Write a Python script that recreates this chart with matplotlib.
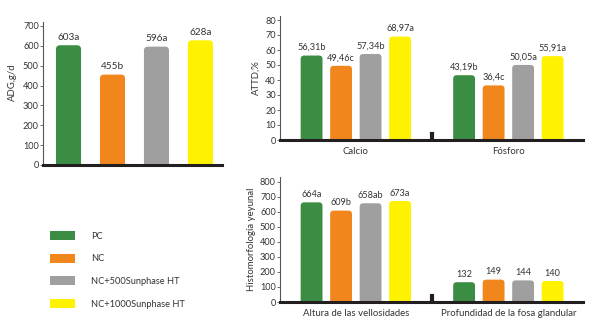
import matplotlib.pyplot as plt
import numpy as np
from matplotlib.patches import FancyBboxPatch, Patch

plt.rcParams['font.family'] = ['Lato', 'DejaVu Sans']

treatments = ['PC', 'NC', 'NC+500Sunphase HT', 'NC+1000Sunphase HT']
colors = ['#3a8d43', '#f0861c', '#9f9f9f', '#fff200']

adg = [603, 455, 596, 628]
adg_letters = ['a', 'b', 'a', 'a']

attd_groups = ['Calcio', 'Fósforo']
attd_ca = [56.31, 49.46, 57.34, 68.97]
attd_ca_letters = ['b', 'c', 'b', 'a']
attd_p = [43.19, 36.4, 50.05, 55.91]
attd_p_letters = ['b', 'c', 'a', 'a']

histo_groups = ['Altura de las vellosidades', 'Profundidad de la fosa glandular']
villi = [664, 609, 658, 673]
villi_letters = ['a', 'b', 'ab', 'a']
crypt = [132, 149, 144, 140]
crypt_letters = ['', '', '', '']

W, H = 600, 335
TXT = '#333333'
fig = plt.figure(figsize=(6, 3.35), dpi=100)


def px_axes(x0, y_top, x1, y_bot):
    return fig.add_axes([x0 / W, 1 - y_bot / H, (x1 - x0) / W, (y_bot - y_top) / H])


def fmt(v):
    return ('%g' % v).replace('.', ',')


def style(ax, ymax, step, ylabel):
    ax.set_ylim(0, ymax)
    ax.set_yticks(np.arange(0, ymax, step))
    for s in ['top', 'right']:
        ax.spines[s].set_visible(False)
    ax.spines['left'].set_color('#555555')
    ax.spines['left'].set_linewidth(0.8)
    ax.spines['bottom'].set_color('#231f20')
    ax.spines['bottom'].set_linewidth(2.2)
    ax.tick_params(axis='y', length=2, width=0.6, color='#555555',
                   labelsize=6.6, labelcolor=TXT, pad=1)
    ax.tick_params(axis='x', length=0, labelsize=6.9, labelcolor=TXT, pad=5)
    ax.set_ylabel(ylabel, fontsize=6.9, color=TXT, labelpad=3)


def rounded_bars(ax, x, vals, letters, width, r_px=3.5, fs=7.5):
    bb = ax.get_window_extent()
    x0, x1 = ax.get_xlim()
    y0, y1 = ax.get_ylim()
    ppx = bb.width / (x1 - x0)
    ppy = bb.height / (y1 - y0)
    rx = r_px / ppx
    ry = r_px / ppy
    for xi, v, c, let in zip(x, vals, colors, letters):
        p = FancyBboxPatch((xi - width / 2, -ry), width, v + ry,
                           boxstyle='round,pad=0,rounding_size=%f' % rx,
                           mutation_aspect=ry / rx, fc=c, ec='none')
        ax.add_patch(p)
        ax.annotate(fmt(v) + let, (xi, v), xytext=(0, 2.5),
                    textcoords='offset points', ha='center', va='bottom',
                    fontsize=fs, color=TXT)


# ADG panel
ax1 = px_axes(43, 22, 222, 165)
ax1.set_xlim(-0.58, 3.49)
style(ax1, 720, 100, 'ADG,g/d')
ax1.yaxis.set_label_coords(-0.145, 0.58)
ax1.set_xticks([])
rounded_bars(ax1, np.arange(4), adg, adg_letters, 0.57, 4, 7.2)

# grouped panels
gap = 5.17
xg = [np.arange(4) + g * gap for g in range(2)]
sep = 3 + (gap - 3) / 2


def grouped(ax, ymax, step, ylabel, groups, series, letters):
    ax.set_xlim(-1.07, 9.2)
    style(ax, ymax, step, ylabel)
    for xs, vals, let in zip(xg, series, letters):
        rounded_bars(ax, xs, vals, let, 0.74, 3.5, 6.6)
    ax.set_xticks([xs.mean() for xs in xg])
    ax.set_xticklabels(groups)
    ax.axvline(sep, ymin=0, ymax=0.05, color='#231f20', lw=3)


ax2 = px_axes(280, 15.5, 583, 140)
grouped(ax2, 83, 10, 'ATTD,%', attd_groups, [attd_ca, attd_p],
        [attd_ca_letters, attd_p_letters])

ax3 = px_axes(280, 177, 583, 302)
grouped(ax3, 833, 100, 'Histomorfología yeyunal', histo_groups, [villi, crypt],
        [villi_letters, crypt_letters])

handles = [Patch(fc=c, ec='none') for c in colors]
fig.legend(handles, treatments, loc='upper left', bbox_to_anchor=(50 / W, 1 - 231 / H),
           frameon=False, fontsize=6.7, labelcolor=TXT, handlelength=2.65,
           handleheight=1.1, handletextpad=1.75, labelspacing=1.4,
           borderpad=0, borderaxespad=0)

fig.savefig('out.png', dpi=100)
